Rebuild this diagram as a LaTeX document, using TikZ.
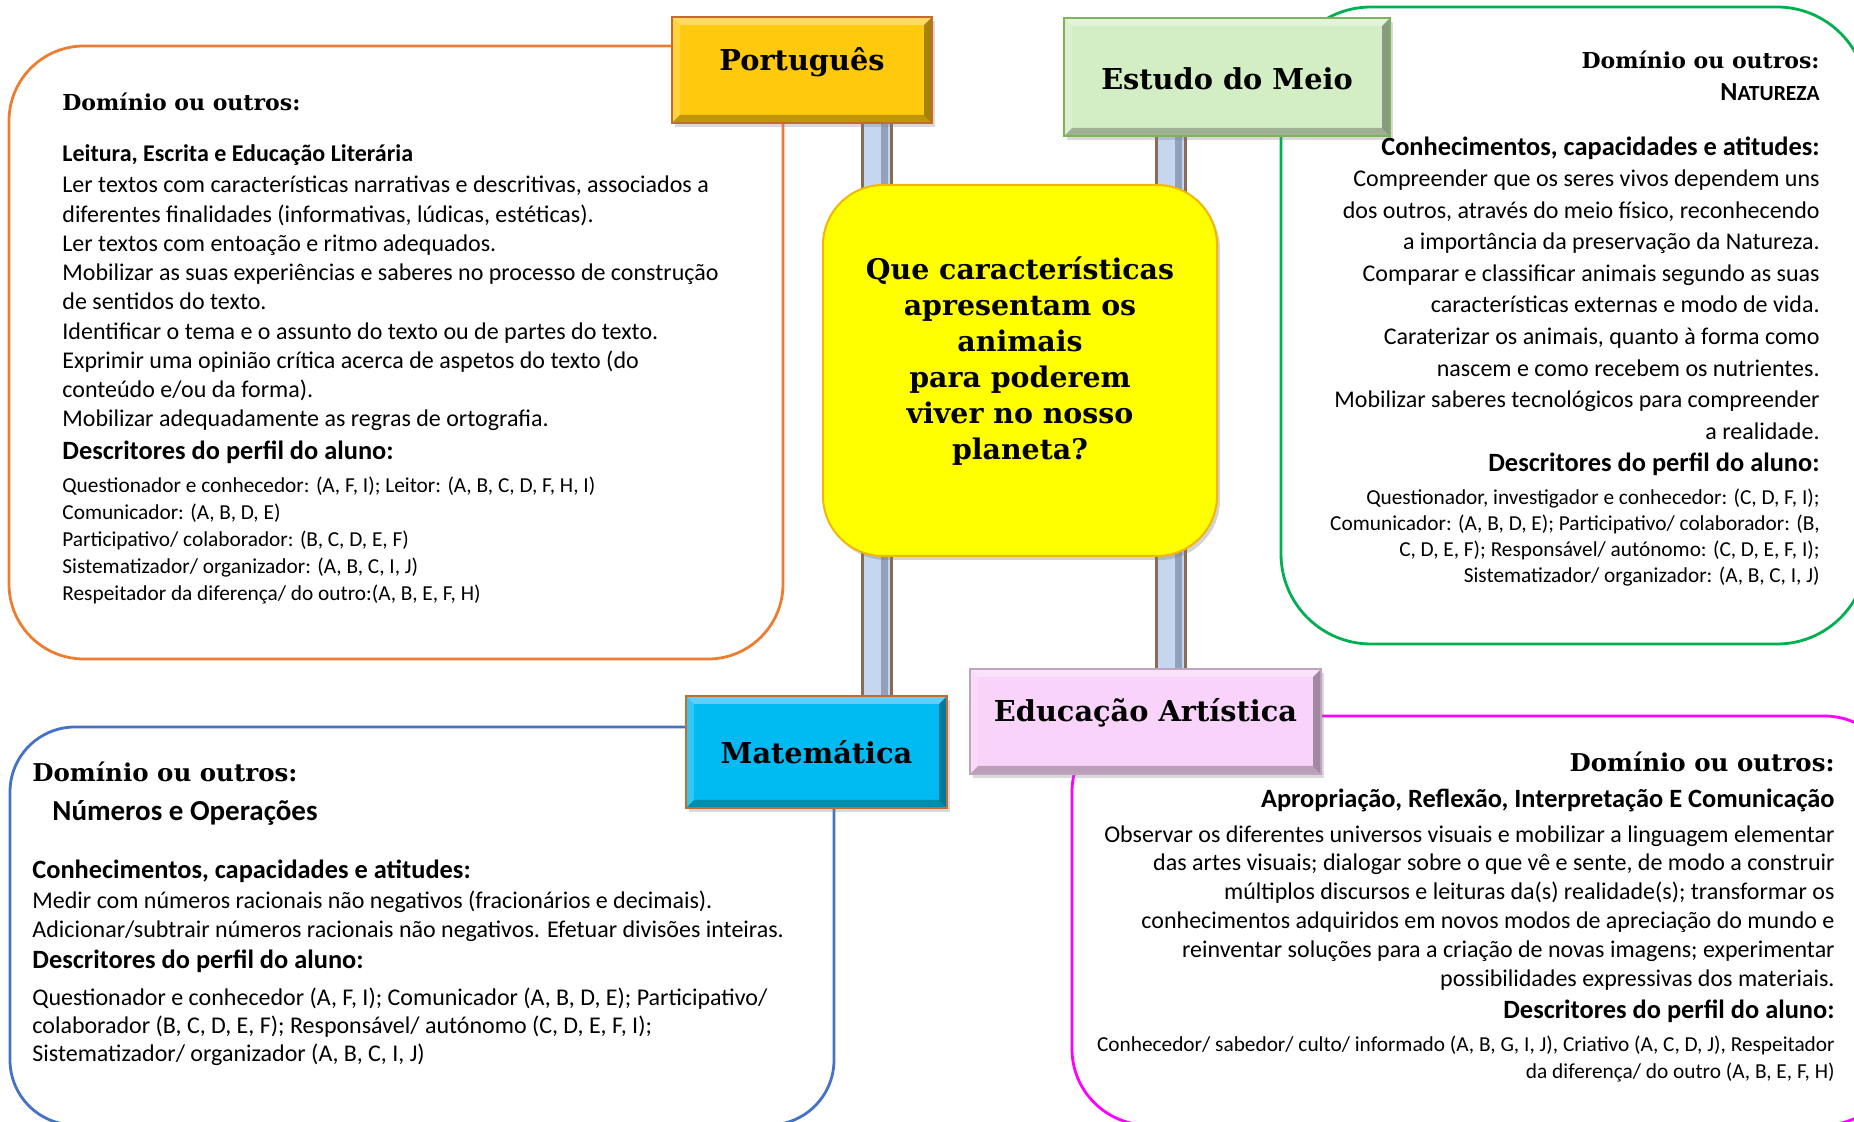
\documentclass[tikz,border=0pt]{standalone}
\usepackage{fontspec}
\setmainfont{Carlito}
\newfontfamily\serifhead{DejaVu Serif}
\usetikzlibrary{shadows,backgrounds}

\definecolor{orangeln}{HTML}{ED7D31}
\definecolor{greenln}{HTML}{00B050}
\definecolor{blueln}{HTML}{4472C4}
\definecolor{pinkln}{HTML}{FF00FF}
\definecolor{portfill}{HTML}{FFC90E}
\definecolor{meiofill}{HTML}{D3EDC4}
\definecolor{meioln}{HTML}{7DB35A}
\definecolor{matfill}{HTML}{00BAF2}
\definecolor{brownln}{HTML}{C86A2C}
\definecolor{artfill}{HTML}{F9D3F9}
\definecolor{artln}{HTML}{BFA3BF}
\definecolor{qfill}{HTML}{FFFF00}
\definecolor{qln}{HTML}{F2B705}
\definecolor{pillarfill}{HTML}{C5D6F1}
\definecolor{pillarln}{HTML}{8A6B58}
\definecolor{pillardark}{HTML}{56607A}

\newcommand\ppb{path picture bounding box}

\tikzset{
  bevel/.style={path picture={
    \fill[white,opacity=.35] (\ppb.north west) -- (\ppb.north east)
      -- ([shift={(-4pt,-4pt)}]\ppb.north east) -- ([shift={(4pt,-4pt)}]\ppb.north west) -- cycle;
    \fill[white,opacity=.2] (\ppb.north west) -- ([shift={(4pt,-4pt)}]\ppb.north west)
      -- ([shift={(4pt,4pt)}]\ppb.south west) -- (\ppb.south west) -- cycle;
    \fill[black,opacity=.25] (\ppb.south west) -- ([shift={(4pt,4pt)}]\ppb.south west)
      -- ([shift={(-4pt,4pt)}]\ppb.south east) -- (\ppb.south east) -- cycle;
    \fill[black,opacity=.35] (\ppb.north east) -- ([shift={(-4pt,-4pt)}]\ppb.north east)
      -- ([shift={(-4pt,4pt)}]\ppb.south east) -- (\ppb.south east) -- cycle;
  }},
  subject/.style={draw=#1, line width=0.8pt, inner sep=0pt, bevel,
    drop shadow={opacity=.3, shadow xshift=1.5pt, shadow yshift=-2pt},
    font=\serifhead\bfseries\fontsize{14.4}{17}\selectfont, text height=11pt, text depth=3pt},
  quest/.style={draw=qln, fill=qfill, line width=1pt, rounded corners=30pt,
    minimum width=197pt, minimum height=185.5pt, align=center,
    drop shadow={opacity=.35, shadow xshift=1.5pt, shadow yshift=-2pt},
    font=\serifhead\bfseries\fontsize{14.2}{18}\selectfont},
  pillar/.style={draw=pillarln, line width=1.5pt, double=pillarfill, double distance=13pt},
  pillarshade/.style={draw=pillardark, line width=3.5pt, opacity=.45},
  panel/.style={line width=1.4pt},
  domtxt/.style={inner sep=0pt, font=\serifhead\bfseries\fontsize{#1}{14}\selectfont},
  domtxt/.default=11,
  bodytxt/.style={inner sep=0pt, font=\fontsize{12}{14}\selectfont},
  smalltxt/.style={inner sep=0pt, font=\fontsize{10.66}{13}\selectfont},
  headtxt/.style={inner sep=0pt, font=\bfseries\fontsize{13.2}{16}\selectfont},
  subtxt/.style={inner sep=0pt, font=\bfseries\fontsize{#1}{16}\selectfont},
  subtxt/.default=12
}

\begin{document}
\begin{tikzpicture}[x=0.5pt,y=-0.5pt]
  \useasboundingbox (0,0) rectangle (1854,1122);

  % -- Central question --
  \node[quest] (quest) at (1020,370.5)
    {Que características\\apresentam os\\animais\\para poderem\\viver no nosso\\planeta?\\[-6pt]\mbox{}};

  % -- Subject labels --
  \node[subject=brownln, fill=portfill, minimum width=130pt, minimum height=53pt, text depth=10pt]
    (port) at (802,70) {Português};
  \node[subject=meioln, fill=meiofill, minimum width=163pt, minimum height=59pt, text height=16pt]
    (meio) at (1227,77) {Estudo do Meio};
  \node[subject=brownln, fill=matfill, minimum width=130.5pt, minimum height=56pt, text height=15pt]
    (mat) at (816.5,752) {Matemática};
  \node[subject=artln, fill=artfill, minimum width=175.5pt, minimum height=52.5pt, text depth=11pt]
    (art) at (1145.5,721.5) {Educação Artística};

  % -- Pillars and panel frames, behind everything --
  \coordinate (lpil) at (877,0);
  \coordinate (rpil) at (1171,0);
  \coordinate (lshade) at (884,0);
  \coordinate (rshade) at (1178,0);
  \begin{scope}[on background layer]
    \draw[pillar] (port.south -| lpil) -- (mat.north -| lpil);
    \draw[pillar] (meio.south -| rpil) -- (art.north -| rpil);
    \draw[pillarshade] (port.south -| lshade) -- (mat.north -| lshade);
    \draw[pillarshade] (meio.south -| rshade) -- (art.north -| rshade);
    \draw[panel, draw=orangeln, rounded corners=37.5pt] (9,46) rectangle (783,659);
    \draw[panel, draw=greenln, rounded corners=45pt] (1281,7) rectangle (1867,644);
    \draw[panel, draw=blueln, rounded corners=32.5pt] (10,727) rectangle (834,1125);
    \draw[panel, draw=pinkln, rounded corners=38pt] (1072,716) rectangle (1900,1125);
  \end{scope}

  % -- Portugues panel --
  \node[domtxt, anchor=base west] (port-dom) at (62,111) {Domínio ou outros:};
  \node[subtxt, anchor=base west] (port-sub) at (62,162) {Leitura, Escrita e Educação Literária};
  \foreach \t [count=\i from 0] in {
      {Ler textos com características narrativas e descritivas, associados a},
      {diferentes finalidades (informativas, lúdicas, estéticas).},
      {Ler textos com entoação e ritmo adequados.},
      {Mobilizar as suas experiências e saberes no processo de construção},
      {de sentidos do texto.},
      {Identificar o tema e o assunto do texto ou de partes do texto.},
      {Exprimir uma opinião crítica acerca de aspetos do texto (do},
      {conteúdo e/ou da forma).},
      {Mobilizar adequadamente as regras de ortografia.}}
    \node[bodytxt, anchor=base west] (port-\i) at (62,193+29.25*\i) {\t};
  \node[headtxt, anchor=base west] (port-desc) at (62,460) {Descritores do perfil do aluno:};
  \foreach \t [count=\i from 0] in {
      {Questionador e conhecedor: (A, F, I); Leitor: (A, B, C, D, F, H, I)},
      {Comunicador: (A, B, D, E)},
      {Participativo/ colaborador: (B, C, D, E, F)},
      {Sistematizador/ organizador: (A, B, C, I, J)},
      {Respeitador da diferença/ do outro:(A, B, E, F, H)}}
    \node[smalltxt, anchor=base west] (port-s\i) at (62,493+26.9*\i) {\t};

  % -- Estudo do Meio panel --
  \node[domtxt, anchor=base east] (meio-dom) at (1820,69) {Domínio ou outros:};
  \node[inner sep=0pt, anchor=base east, font=\bfseries] (meio-sub) at (1820,100.5)
    {\fontsize{13}{16}\selectfont N\fontsize{10.8}{16}\selectfont ATUREZA};
  \node[headtxt, anchor=base east] (meio-con) at (1820,156) {Conhecimentos, capacidades e atitudes:};
  \foreach \t [count=\i from 0] in {
      {Compreender que os seres vivos dependem uns},
      {dos outros, através do meio físico, reconhecendo},
      {a importância da preservação da Natureza.},
      {Comparar e classificar animais segundo as suas},
      {características externas e modo de vida.},
      {Caraterizar os animais, quanto à forma como},
      {nascem e como recebem os nutrientes.},
      {Mobilizar saberes tecnológicos para compreender},
      {a realidade.}}
    \node[bodytxt, anchor=base east] (meio-\i) at (1820,186.5+31.6*\i) {\t};
  \node[headtxt, anchor=base east] (meio-desc) at (1820,472) {Descritores do perfil do aluno:};
  \foreach \t [count=\i from 0] in {
      {Questionador, investigador e conhecedor: (C, D, F, I);},
      {Comunicador: (A, B, D, E); Participativo/ colaborador: (B,},
      {C, D, E, F); Responsável/ autónomo: (C, D, E, F, I);},
      {Sistematizador/ organizador: (A, B, C, I, J)}}
    \node[smalltxt, anchor=base east] (meio-s\i) at (1820,505+26*\i) {\t};

  % -- Matematica panel --
  \node[domtxt=12.25, anchor=base west] (mat-dom) at (32,782) {Domínio ou outros:};
  \node[subtxt=14.5, anchor=base west] (mat-sub) at (52,820) {Números e Operações};
  \node[headtxt, anchor=base west] (mat-con) at (32,878) {Conhecimentos, capacidades e atitudes:};
  \foreach \t [count=\i from 0] in {
      {Medir com números racionais não negativos (fracionários e decimais).},
      {Adicionar/subtrair números racionais não negativos. Efetuar divisões inteiras.}}
    \node[bodytxt, anchor=base west] (mat-\i) at (32,908+29*\i) {\t};
  \node[headtxt, anchor=base west] (mat-desc) at (32,968) {Descritores do perfil do aluno:};
  \foreach \t [count=\i from 0] in {
      {Questionador e conhecedor (A, F, I); Comunicador (A, B, D, E); Participativo/},
      {colaborador (B, C, D, E, F); Responsável/ autónomo (C, D, E, F, I);},
      {Sistematizador/ organizador (A, B, C, I, J)}}
    \node[bodytxt, anchor=base west] (mat-s\i) at (32,1005+28*\i) {\t};

  % -- Educacao Artistica panel --
  \node[domtxt=12.25, anchor=base east] (art-dom) at (1835,772) {Domínio ou outros:};
  \node[headtxt, anchor=base east] (art-sub) at (1835,807)
    {Apropriação, Reflexão, Interpretação E Comunicação};
  \foreach \t [count=\i from 0] in {
      {Observar os diferentes universos visuais e mobilizar a linguagem elementar},
      {das artes visuais; dialogar sobre o que vê e sente, de modo a construir},
      {múltiplos discursos e leituras da(s) realidade(s); transformar os},
      {conhecimentos adquiridos em novos modos de apreciação do mundo e},
      {reinventar soluções para a criação de novas imagens; experimentar},
      {possibilidades expressivas dos materiais.}}
    \node[bodytxt, anchor=base east] (art-\i) at (1835,842+28.8*\i) {\t};
  \node[headtxt, anchor=base east] (art-desc) at (1835,1018) {Descritores do perfil do aluno:};
  \foreach \t [count=\i from 0] in {
      {Conhecedor/ sabedor/ culto/ informado (A, B, G, I, J), Criativo (A, C, D, J), Respeitador},
      {da diferença/ do outro (A, B, E, F, H)}}
    \node[smalltxt, anchor=base east] (art-s\i) at (1835,1051+27*\i) {\t};

\end{tikzpicture}
\end{document}
